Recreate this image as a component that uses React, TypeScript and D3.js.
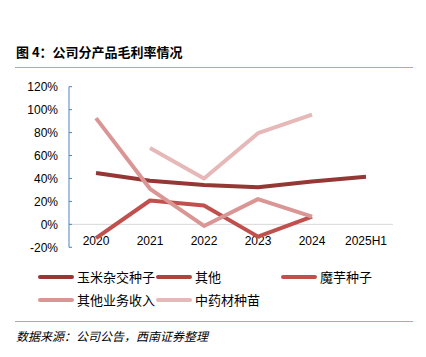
import React from "react";
import * as d3 from "d3";

const years = ["2020", "2021", "2022", "2023", "2024", "2025H1"];
const yTicks = [-20, 0, 20, 40, 60, 80, 100, 120];
const seriesNames = ["玉米杂交种子", "其他", "魔芋种子", "其他业务收入", "中药材种苗"];
const seriesColors = ["#953735", "#B0423F", "#C0504D", "#D99694", "#E6B9B8"];
const cornSeed: (number | null)[] = [44.8, 38, 34.4, 32.4, 37.3, 41.4];
const others: (number | null)[] = [null, null, null, null, null, null];
const konjacSeed: (number | null)[] = [-12, 20.8, 16.5, -10.7, 6.7, null];
const otherBusiness: (number | null)[] = [92.6, 31, -1.4, 22, 6.7, null];
const herbSeedling: (number | null)[] = [null, 66.5, 40, 79.5, 95.7, null];
const seriesValues = [cornSeed, others, konjacSeed, otherBusiness, herbSeedling];

const W = 426;
const H = 357;
const left = 69;
const right = 393;
const top = 86.7;
const bottom = 247.3;

export default function App() {
  const x = d3.scaleBand<string>().domain(years).range([left, right]);
  const y = d3.scaleLinear().domain([-20, 120]).range([bottom, top]);
  const line = d3
    .line<number | null>()
    .defined((d) => d !== null)
    .x((_, i) => (x(years[i]) as number) + x.bandwidth() / 2)
    .y((d) => y(d as number));

  const legendPos = [
    [40, 277],
    [158, 277],
    [283, 277],
    [40, 300],
    [158, 300],
  ];

  const cjk = '"Noto Sans CJK SC", sans-serif';
  const axisFont = '"Liberation Sans", Arial, sans-serif';

  return (
    <svg
      width={W}
      height={H}
      style={{ position: "absolute", left: 0, top: 0, background: "#fff" }}
    >
      <text x={16} y={57} fontFamily={cjk} fontWeight={700} fontSize={13} fill="#000">
        图 4：公司分产品毛利率情况
      </text>
      <line x1={15} x2={413} y1={67.5} y2={67.5} stroke="#D9A25E" strokeWidth={1.2} />

      {/* zero gridline */}
      <line x1={left} x2={right} y1={y(0)} y2={y(0)} stroke="#D9D9D9" strokeWidth={1} />

      {/* y axis */}
      <line x1={left} x2={left} y1={top} y2={bottom} stroke="#4F81BD" strokeWidth={1} />
      {yTicks.map((t) => (
        <g key={t}>
          <line x1={left} x2={left + 3} y1={y(t)} y2={y(t)} stroke="#4F81BD" strokeWidth={1} />
          <text
            x={left - 11}
            y={y(t)}
            dy="0.35em"
            textAnchor="end"
            fontFamily={axisFont}
            fontSize={12}
            fill="#000"
          >
            {t}%
          </text>
        </g>
      ))}

      {/* x labels */}
      {years.map((yr) => (
        <text
          key={yr}
          x={(x(yr) as number) + x.bandwidth() / 2}
          y={245}
          textAnchor="middle"
          fontFamily={axisFont}
          fontSize={12}
          fill="#000"
        >
          {yr}
        </text>
      ))}

      {/* lines */}
      {seriesValues.map((vals, i) => (
        <path
          key={seriesNames[i]}
          d={line(vals) || ""}
          fill="none"
          stroke={seriesColors[i]}
          strokeWidth={4}
          strokeLinejoin="round"
        />
      ))}

      {/* legend */}
      {seriesNames.map((name, i) => (
        <g key={name}>
          <line
            x1={legendPos[i][0]}
            x2={legendPos[i][0] + 32}
            y1={legendPos[i][1]}
            y2={legendPos[i][1]}
            stroke={seriesColors[i]}
            strokeWidth={4}
            strokeLinecap="round"
          />
          <text
            x={legendPos[i][0] + 37}
            y={legendPos[i][1]}
            dy="0.36em"
            fontFamily={cjk}
            fontSize={13}
            fill="#000"
          >
            {name}
          </text>
        </g>
      ))}

      <line x1={15} x2={413} y1={321.5} y2={321.5} stroke="#D9A25E" strokeWidth={1.2} />
      <text
        x={16}
        y={341}
        fontFamily={cjk}
        fontSize={12}
        fontStyle="italic"
        fill="#000"
        transform="skewX(0)"
      >
        数据来源：公司公告，西南证券整理
      </text>
    </svg>
  );
}
